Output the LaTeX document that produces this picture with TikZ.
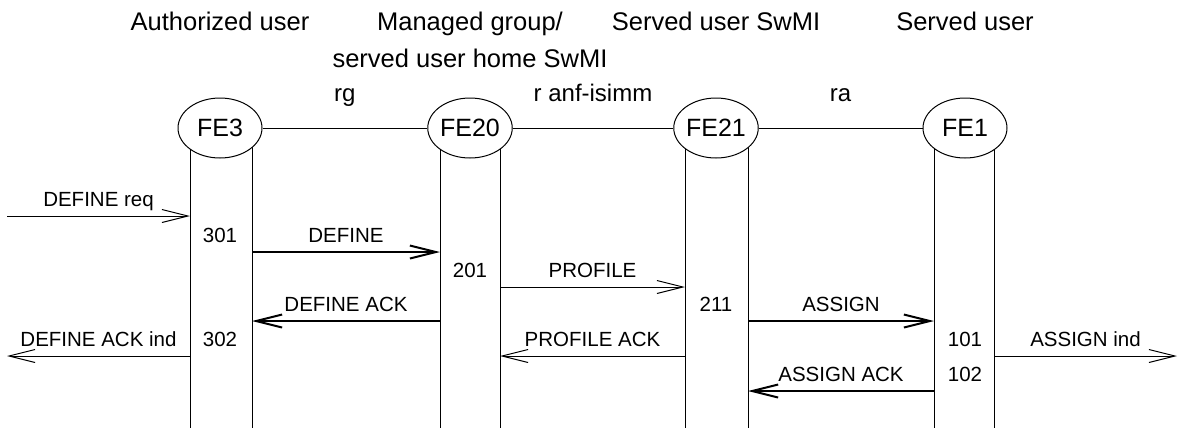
\documentclass[tikz,border=0pt]{standalone}
\usepackage{fontspec}
\setmainfont{Liberation Sans}
\usetikzlibrary{positioning, shapes.geometric, arrows.meta, backgrounds}
\tikzset{
    fe/.style = {
        draw, ellipse, fill = white,
        minimum width = 42pt,
        minimum height = 30pt,
        inner sep = 0pt,
        font = \fontsize{12.5}{15}\selectfont
    },
    head/.style = {anchor = base, align = center, inner sep = 0pt, font = \fontsize{12.75}{18.5}\selectfont},
    iface/.style = {anchor = base, yshift = 13.5pt, inner sep = 0pt, font = \fontsize{12}{14}\selectfont},
    lbl/.style = {anchor = base, yshift = 5pt, inner sep = 0pt, font = \fontsize{10.25}{12}\selectfont},
    prim/.style = {line width = 0.5pt, -{Straight Barb[length = 13pt, width = 6.5pt]}},
    msg/.style = {line width = 1pt, -{Straight Barb[length = 13pt, width = 6.5pt]}}
}

\begin{document}
\begin{tikzpicture}[x = 0.5pt, y = -0.5pt, line width = 0.5pt]

    \useasboundingbox (0,0) rectangle (1178,430);

    % Rows
    \coordinate (top) at (0,30);
    \coordinate (top2) at (0,67);
    \coordinate (r1) at (0,216);
    \coordinate (r2) at (0,252);
    \coordinate (r3) at (0,287);
    \coordinate (r4) at (0,321);
    \coordinate (r5) at (0,356);
    \coordinate (r6) at (0,391);
    \coordinate (bot) at (0,428);
    \coordinate (left) at (7,0);
    \coordinate (right) at (1177,0);

    % Lifelines
    \coordinate (fe3l) at (190,0);
    \coordinate (fe3r) at (252,0);
    \coordinate (fe20l) at (440,0);
    \coordinate (fe20r) at (500,0);
    \coordinate (fe21l) at (685,0);
    \coordinate (fe21r) at (748,0);
    \coordinate (fe1l) at (934,0);
    \coordinate (fe1r) at (994,0);

    % Functional entities
    \node[fe] (fe3) at (220,128) {FE3};
    \node[fe] (fe20) at (470,128) {FE20};
    \node[fe] (fe21) at (716,128) {FE21};
    \node[fe] (fe1) at (965,128) {FE1};

    \begin{scope}[on background layer]
        \foreach \l in {fe3l, fe3r, fe20l, fe20r, fe21l, fe21r, fe1l, fe1r}
            \draw (\l |- fe3) -- (\l |- bot);
    \end{scope}

    % Headers
    \node[head] (h3) at (fe3 |- top) {Authorized user};
    \node[head] (h20) at (fe20 |- top2) {Managed group/\\served user home SwMI};
    \node[head] (h21) at (fe21 |- top) {Served user SwMI};
    \node[head] (h1) at (fe1 |- top) {Served user};

    % Reference points
    \draw (fe3) -- node[iface] (rg) {rg} (fe20);
    \draw (fe20) -- node[iface] (ranf) {r anf-isimm} (fe21);
    \draw (fe21) -- node[iface] (ra) {ra} (fe1);

    % Flows
    \draw[prim] (left |- r1) -- node[lbl] (m1) {DEFINE req} (fe3l |- r1);
    \node[lbl] (n301) at (fe3 |- r2) {301};
    \draw[msg] (fe3r |- r2) -- node[lbl] (m2) {DEFINE} (fe20l |- r2);
    \node[lbl] (n201) at (fe20 |- r3) {201};
    \draw[prim] (fe20r |- r3) -- node[lbl] (m3) {PROFILE} (fe21l |- r3);
    \node[lbl] (n211) at (fe21 |- r4) {211};
    \draw[msg] (fe20l |- r4) -- node[lbl] (m4) {DEFINE ACK} (fe3r |- r4);
    \draw[msg] (fe21r |- r4) -- node[lbl] (m5) {ASSIGN} (fe1l |- r4);
    \node[lbl] (n302) at (fe3 |- r5) {302};
    \draw[prim] (fe3l |- r5) -- node[lbl] (m6) {DEFINE ACK ind} (left |- r5);
    \draw[prim] (fe21l |- r5) -- node[lbl] (m7) {PROFILE ACK} (fe20r |- r5);
    \node[lbl] (n101) at (fe1 |- r5) {101};
    \draw[prim] (fe1r |- r5) -- node[lbl] (m8) {ASSIGN ind} (right |- r5);
    \node[lbl] (n102) at (fe1 |- r6) {102};
    \draw[msg] (fe1l |- r6) -- node[lbl] (m9) {ASSIGN ACK} (fe21r |- r6);

\end{tikzpicture}
\end{document}
